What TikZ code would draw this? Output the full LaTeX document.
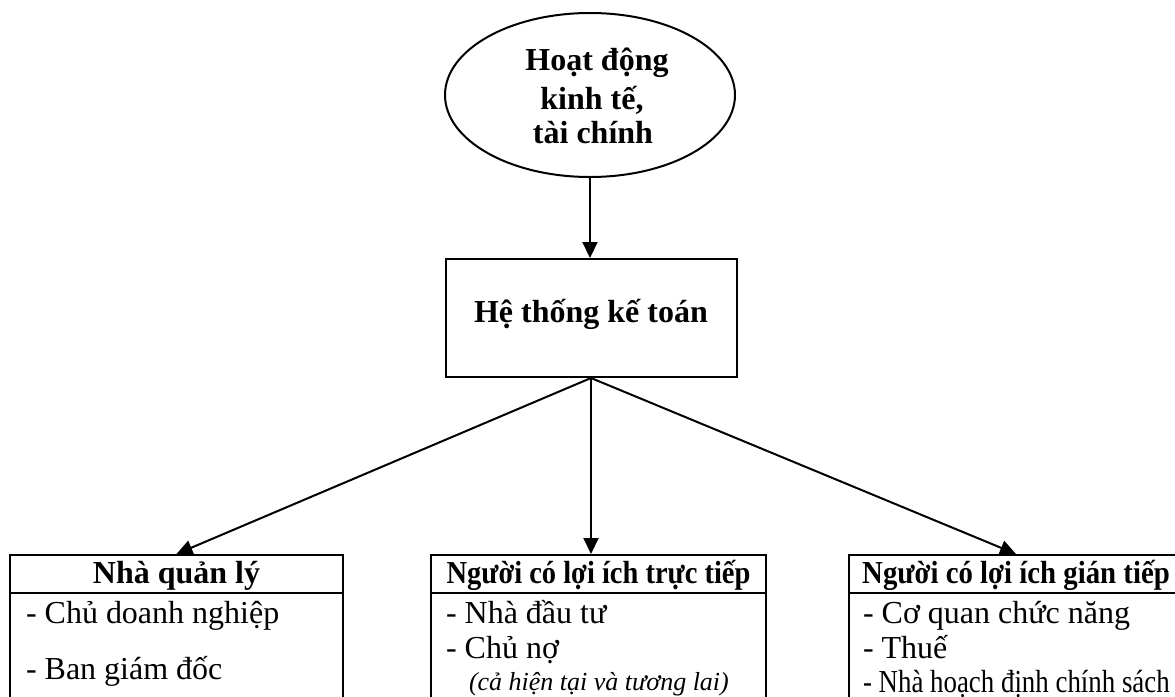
\documentclass[tikz,border=0pt]{standalone}
\usepackage{fontspec}
\setmainfont{Liberation Serif}
\usetikzlibrary{shapes.geometric,arrows.meta}
\begin{document}
\begin{tikzpicture}[x=0.5pt,y=-0.5pt,
  line width=1pt,
  arr/.style={-{Triangle[length=8pt,width=7.5pt]}},
  title/.style={font=\fontsize{16}{19}\selectfont\bfseries, inner sep=0pt, anchor=base},
  head/.style={font=\fontsize{16}{19}\selectfont\bfseries, inner sep=0pt, anchor=base},
  item/.style={font=\fontsize{16}{19}\selectfont, inner sep=0pt, anchor=base west},
  note/.style={font=\fontsize{13}{15}\selectfont\itshape, inner sep=0pt, anchor=base west},
  panel/.style={draw, rectangle, inner sep=0pt, anchor=north, minimum height=90pt}]
\useasboundingbox (0,0) rectangle (1175,697);
\clip (0,0) rectangle (1175,697);

% source of the data
\node[draw, ellipse, minimum width=145pt, minimum height=82pt, inner sep=0pt] (src) at (590,95) {};
\node[title] (src1) at (597,70) {Hoạt động};
\node[title] (src2) at (592,109) {kinh tế,};
\node[title] (src3) at (593,143) {tài chính};

% accounting system
\node[draw, rectangle, minimum width=145.5pt, minimum height=59pt, inner sep=0pt] (sys) at (591,318) {};
\node[title] (syst) at (591,322) {Hệ thống kế toán};

% the three groups of users
\node[panel, minimum width=166.5pt] (p1) at (176.5,554) {};
\node[panel, minimum width=167.5pt] (p2) at (598.5,554) {};
\node[panel, minimum width=167pt] (p3) at (1016,554) {};
\coordinate (hr) at (0,593);
\draw (p1.west |- hr) -- (p1.east |- hr);
\draw (p2.west |- hr) -- (p2.east |- hr);
\draw (p3.west |- hr) -- (p3.east |- hr);

\node[head] (h1) at (176.5,583) {Nhà quản lý};
\node[head] (h2) at (598.5,583) {\scalebox{0.89}[1]{Người có lợi ích trực tiếp}};
\node[head] (h3) at (1016,583) {\scalebox{0.9}[1]{Người có lợi ích gián tiếp}};

\node[item] (a1) at (25,623) {- Chủ doanh nghiệp};
\node[item] (a2) at (25,679) {- Ban giám đốc};

\node[item] (b1) at (445,623) {- Nhà đầu tư};
\node[item] (b2) at (445,658) {- Chủ nợ};
\node[note] (b3) at (468,690) {(cả hiện tại và tương lai)};

\node[item] (c1) at (862,623) {- Cơ quan chức năng};
\node[item] (c2) at (862,658) {- Thuế};
\node[item] (c3) at (862,692) {\scalebox{0.84}[1]{- Nhà hoạch định chính sách}};

% connectors
\draw[arr] (src.south) -- (src.south |- sys.north);
\draw[arr] (sys.south) -- (p1.north);
\draw[arr] (sys.south) -- (sys.south |- p2.north);
\draw[arr] (sys.south) -- (p3.north);
\end{tikzpicture}
\end{document}
